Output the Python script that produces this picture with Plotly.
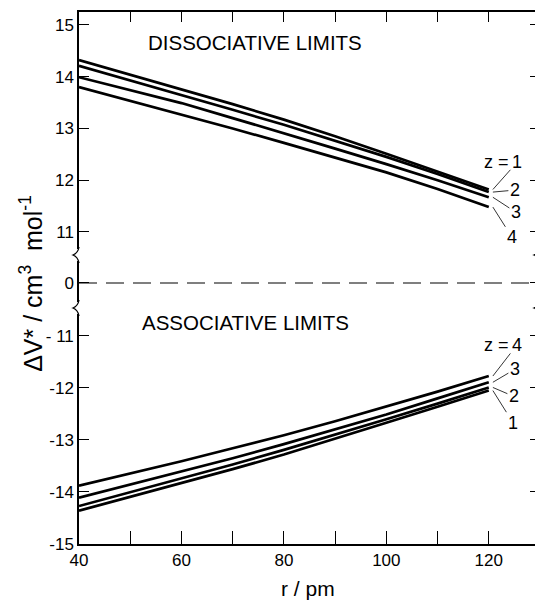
import plotly.graph_objects as go

# ---- data ----
r_pm = [40, 60, 70, 80, 90, 100, 110, 120]

# Dissociative limits (upper panel)
diss_z1 = [14.32, 13.76, 13.47, 13.17, 12.85, 12.51, 12.17, 11.82]
diss_z2 = [14.21, 13.65, 13.36, 13.07, 12.76, 12.45, 12.12, 11.77]
diss_z3 = [13.99, 13.49, 13.20, 12.91, 12.61, 12.31, 12.00, 11.67]
diss_z4 = [13.80, 13.27, 13.00, 12.72, 12.44, 12.15, 11.83, 11.48]

# Associative limits (lower panel)
assoc_z1 = [-14.36, -13.83, -13.56, -13.28, -12.98, -12.67, -12.36, -12.05]
assoc_z2 = [-14.27, -13.74, -13.47, -13.19, -12.90, -12.60, -12.30, -11.99]
assoc_z3 = [-14.11, -13.61, -13.35, -13.08, -12.80, -12.51, -12.20, -11.89]
assoc_z4 = [-13.88, -13.41, -13.16, -12.91, -12.64, -12.36, -12.07, -11.77]

x_tick_vals = [40, 50, 60, 70, 80, 90, 100, 110, 120]
x_tick_text = ["40", "", "60", "", "80", "", "100", "", "120"]
x_top_ticks = [50, 60, 70, 80, 90, 100, 110, 120]
y_top_ticks = [11, 12, 13, 14, 15]
y_mid_ticks = [0]
y_bot_ticks = [-15, -14, -13, -12, -11]
y_bot_text = ["-15", "-14", "-13", "-12", "- 11"]

FONT = "Liberation Sans, Arial, sans-serif"
BLACK = "black"

fig = go.Figure()

line_style = dict(color=BLACK, width=2.7)
for ys in (diss_z1, diss_z2, diss_z3, diss_z4):
    fig.add_trace(go.Scatter(x=r_pm, y=ys, mode="lines", line=line_style,
                             xaxis="x", yaxis="y3", showlegend=False, hoverinfo="skip"))
for ys in (assoc_z1, assoc_z2, assoc_z3, assoc_z4):
    fig.add_trace(go.Scatter(x=r_pm, y=ys, mode="lines", line=line_style,
                             xaxis="x", yaxis="y", showlegend=False, hoverinfo="skip"))

B1 = 236 / 532  # top of bottom panel
B2 = 289 / 532  # top of middle panel

axis_common = dict(showline=True, linecolor=BLACK, linewidth=1.5, showgrid=False,
                   zeroline=False, ticks="inside", tickcolor=BLACK, tickwidth=1.3,
                   automargin=False,
                   tickfont=dict(family=FONT, size=17, color=BLACK))

# the page body has an 8px default margin, so the figure is sized/placed to compensate
fig.update_layout(
    template="none",
    width=535, height=592,
    margin=dict(l=71, r=3, t=4, b=56, autoexpand=False),
    paper_bgcolor="white", plot_bgcolor="white",
    showlegend=False,
    xaxis=dict(axis_common, domain=[0, 1], range=[40, 130], anchor="y",
               tickvals=x_tick_vals, ticktext=x_tick_text, ticklen=13, mirror=False),
    xaxis2=dict(axis_common, overlaying="x", anchor="y3", side="top", range=[40, 130],
                tickvals=x_top_ticks, ticklen=10, showticklabels=False),
    yaxis=dict(axis_common, domain=[0, B1], range=[-15, -10.462], anchor="x",
               tickvals=y_bot_ticks, ticktext=y_bot_text, ticklen=10, mirror="ticks"),
    yaxis2=dict(axis_common, domain=[B1, B2], range=[-0.481, 0.538], anchor="x",
                tickvals=y_mid_ticks, ticklen=10, mirror="ticks"),
    yaxis3=dict(axis_common, domain=[B2, 1], range=[10.554, 15.25], anchor="x",
                tickvals=y_top_ticks, ticklen=10, mirror="ticks"),
)

# dummy trace so the top x-axis subplot exists
fig.add_trace(go.Scatter(x=[], y=[], xaxis="x2", yaxis="y3", showlegend=False))

# dashed zero line
fig.add_shape(type="line", xref="x", yref="y2", x0=40, x1=130, y0=0, y1=0,
              line=dict(color=BLACK, width=1.2, dash="18px,9px"))

# axis break marks
for xa in (0, 1):
    for ya in (B1, B2):
        fig.add_shape(type="path", xref="paper", yref="paper",
                      xsizemode="pixel", ysizemode="pixel", xanchor=xa, yanchor=ya,
                      path="M0,6 L0,-6", line=dict(color="white", width=4), layer="above")
        fig.add_shape(type="path", xref="paper", yref="paper",
                      xsizemode="pixel", ysizemode="pixel", xanchor=xa, yanchor=ya,
                      path="M0,8 Q-1,2 -6,0 Q-1,-2 0,-8", line=dict(color=BLACK, width=1.3),
                      layer="above")

# panel titles
fig.add_annotation(text="DISSOCIATIVE LIMITS", xref="x", yref="y3", x=74.4, y=14.67,
                   showarrow=False, font=dict(family=FONT, size=20.5, color=BLACK))
fig.add_annotation(text="ASSOCIATIVE LIMITS", xref="x", yref="y", x=72.6, y=-10.75,
                   showarrow=False, font=dict(family=FONT, size=20.5, color=BLACK))

# z labels with leader lines
lab_font = dict(family=FONT, size=18, color=BLACK)
top_leaders = [("1", diss_z1[-1], 24, -27), ("2", diss_z2[-1], 22, -2),
               ("3", diss_z3[-1], 23, 15), ("4", diss_z4[-1], 19, 30)]
for txt, yv, ax, ay in top_leaders:
    fig.add_annotation(text=txt, xref="x", yref="y3", x=120.8, y=yv, ax=ax, ay=ay,
                       showarrow=True, arrowhead=0, arrowwidth=0.8, arrowcolor=BLACK,
                       standoff=0, font=lab_font)
fig.add_annotation(text="z =", xref="x", yref="y3", x=120.8, y=diss_z1[-1],
                   xshift=4, yshift=27, showarrow=False, font=lab_font)

bot_leaders = [("4", assoc_z4[-1], 24, -31), ("3", assoc_z3[-1], 22, -13),
               ("2", assoc_z2[-1], 21, 9), ("1", assoc_z1[-1], 20, 32)]
for txt, yv, ax, ay in bot_leaders:
    fig.add_annotation(text=txt, xref="x", yref="y", x=120.8, y=yv, ax=ax, ay=ay,
                       showarrow=True, arrowhead=0, arrowwidth=0.8, arrowcolor=BLACK,
                       standoff=0, font=lab_font)
fig.add_annotation(text="z =", xref="x", yref="y", x=120.8, y=assoc_z4[-1],
                   xshift=4, yshift=31, showarrow=False, font=lab_font)

# axis titles
fig.add_annotation(text="ΔV* / cm<sup>3</sup>  mol<sup>-1</sup>", xref="paper", yref="paper",
                   x=-0.142, y=0.49, textangle=-90, showarrow=False,
                   font=dict(family=FONT, size=25, color=BLACK))
fig.add_annotation(text="r / pm", xref="paper", yref="paper", x=0.497, y=-0.083,
                   yanchor="middle", showarrow=False,
                   font=dict(family=FONT, size=21, color=BLACK))

fig.write_html("out.html")
